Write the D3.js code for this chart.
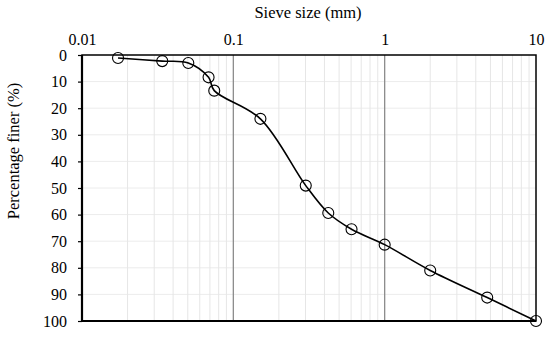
<!DOCTYPE html>
<html>
<head>
<meta charset="utf-8">
<script src="https://cdn.jsdelivr.net/npm/d3@7"></script>
<style>
  body { margin: 0; background: #fff; }
  svg text { font-family: "Liberation Serif", "Times New Roman", serif !important; fill: #000; }
</style>
</head>
<body>
<div id="wrapper"></div>
<script>
// Data
const sieveSize = [0.0173, 0.0339, 0.0504, 0.0686, 0.0748, 0.151, 0.301, 0.424, 0.604, 1.0, 2.0, 4.76, 10]
const percentFiner = [1.1, 2.3, 3.0, 8.4, 13.4, 24.0, 49.1, 59.4, 65.5, 71.3, 81.0, 91.2, 100]
const xTicks = [0.01, 0.1, 1, 10]
const xTickLabels = ['0.01', '0.1', '1', '10']
const yTicks = [0, 10, 20, 30, 40, 50, 60, 70, 80, 90, 100]

const points = sieveSize.map((d, i) => ({ size: d, finer: percentFiner[i] }))

// Chart Dimensions
let dimensions = {
  width: 550,
  height: 338,
  margin: { top: 55, right: 14, bottom: 17, left: 82 },
}
dimensions.boundedWidth = dimensions.width - dimensions.margin.left - dimensions.margin.right
dimensions.boundedHeight = dimensions.height - dimensions.margin.top - dimensions.margin.bottom

// Draw Canvas
const wrapper = d3.select('#wrapper')
  .append('svg')
    .attr('width', dimensions.width)
    .attr('height', dimensions.height)

const bounds = wrapper.append('g')
  .attr('transform', `translate(${dimensions.margin.left}, ${dimensions.margin.top})`)

// Scales
const xScale = d3.scaleLog()
  .domain([0.01, 10])
  .range([0, dimensions.boundedWidth])

const yScale = d3.scaleLinear()
  .domain([0, 100])
  .range([0, dimensions.boundedHeight])

// Gridlines
const minorX = []
for (let dec = 0.01; dec < 10; dec *= 10) {
  for (let k = 2; k <= 9; k++) minorX.push(dec * k)
}

bounds.append('g')
  .selectAll('line')
  .data(yTicks.slice(1, -1))
  .join('line')
    .attr('x1', 0)
    .attr('x2', dimensions.boundedWidth)
    .attr('y1', d => yScale(d))
    .attr('y2', d => yScale(d))
    .attr('stroke', '#ececec')
    .attr('stroke-width', 1)

bounds.append('g')
  .selectAll('line')
  .data(minorX)
  .join('line')
    .attr('x1', d => xScale(d))
    .attr('x2', d => xScale(d))
    .attr('y1', 0)
    .attr('y2', dimensions.boundedHeight)
    .attr('stroke', '#e6e6e6')
    .attr('stroke-width', 1)

bounds.append('g')
  .selectAll('line')
  .data(xTicks.slice(1, -1))
  .join('line')
    .attr('x1', d => xScale(d))
    .attr('x2', d => xScale(d))
    .attr('y1', 0)
    .attr('y2', dimensions.boundedHeight)
    .attr('stroke', '#8c8c8c')
    .attr('stroke-width', 1.3)

// Axes
const xAxisGenerator = d3.axisTop(xScale)
  .tickValues(xTicks)
  .tickFormat((d, i) => xTickLabels[i])
  .tickSize(0)
  .tickPadding(10)

const xAxis = bounds.append('g')
  .call(xAxisGenerator)
  .attr('font-family', '"Liberation Serif", serif')
  .attr('font-size', 16)
xAxis.select('.domain').remove()

const yAxisGenerator = d3.axisLeft(yScale)
  .tickValues(yTicks)
  .tickSize(4)
  .tickPadding(11)

const yAxis = bounds.append('g')
  .call(yAxisGenerator)
  .attr('font-family', '"Liberation Serif", serif')
  .attr('font-size', 16)
yAxis.select('.domain').remove()
yAxis.selectAll('line').attr('stroke-width', 1.2)

// Frame
bounds.append('rect')
  .attr('x', 0)
  .attr('y', 0)
  .attr('width', dimensions.boundedWidth)
  .attr('height', dimensions.boundedHeight)
  .attr('fill', 'none')
  .attr('stroke', '#000')
  .attr('stroke-width', 1.5)

bounds.append('path')
  .attr('d', `M0,0V${dimensions.boundedHeight}H${dimensions.boundedWidth}`)
  .attr('fill', 'none')
  .attr('stroke', '#000')
  .attr('stroke-width', 2.2)

// Line
const lineGenerator = d3.line()
  .x(d => xScale(d.size))
  .y(d => yScale(d.finer))
  .curve(d3.curveCatmullRom.alpha(0.5))

bounds.append('path')
  .attr('d', lineGenerator(points))
  .attr('fill', 'none')
  .attr('stroke', '#000')
  .attr('stroke-width', 1.6)

bounds.append('g')
  .selectAll('circle')
  .data(points)
  .join('circle')
    .attr('cx', d => xScale(d.size))
    .attr('cy', d => yScale(d.finer))
    .attr('r', 5.5)
    .attr('fill', 'none')
    .attr('stroke', '#000')
    .attr('stroke-width', 1.1)

// Titles
wrapper.append('text')
  .attr('x', 308)
  .attr('y', 18)
  .attr('text-anchor', 'middle')
  .style('font-size', '16.5px')
  .text('Sieve size (mm)')

wrapper.append('text')
  .attr('transform', 'translate(19, 151) rotate(-90)')
  .attr('text-anchor', 'middle')
  .style('font-size', '16.5px')
  .text('Percentage finer (%)')
</script>
</body>
</html>
